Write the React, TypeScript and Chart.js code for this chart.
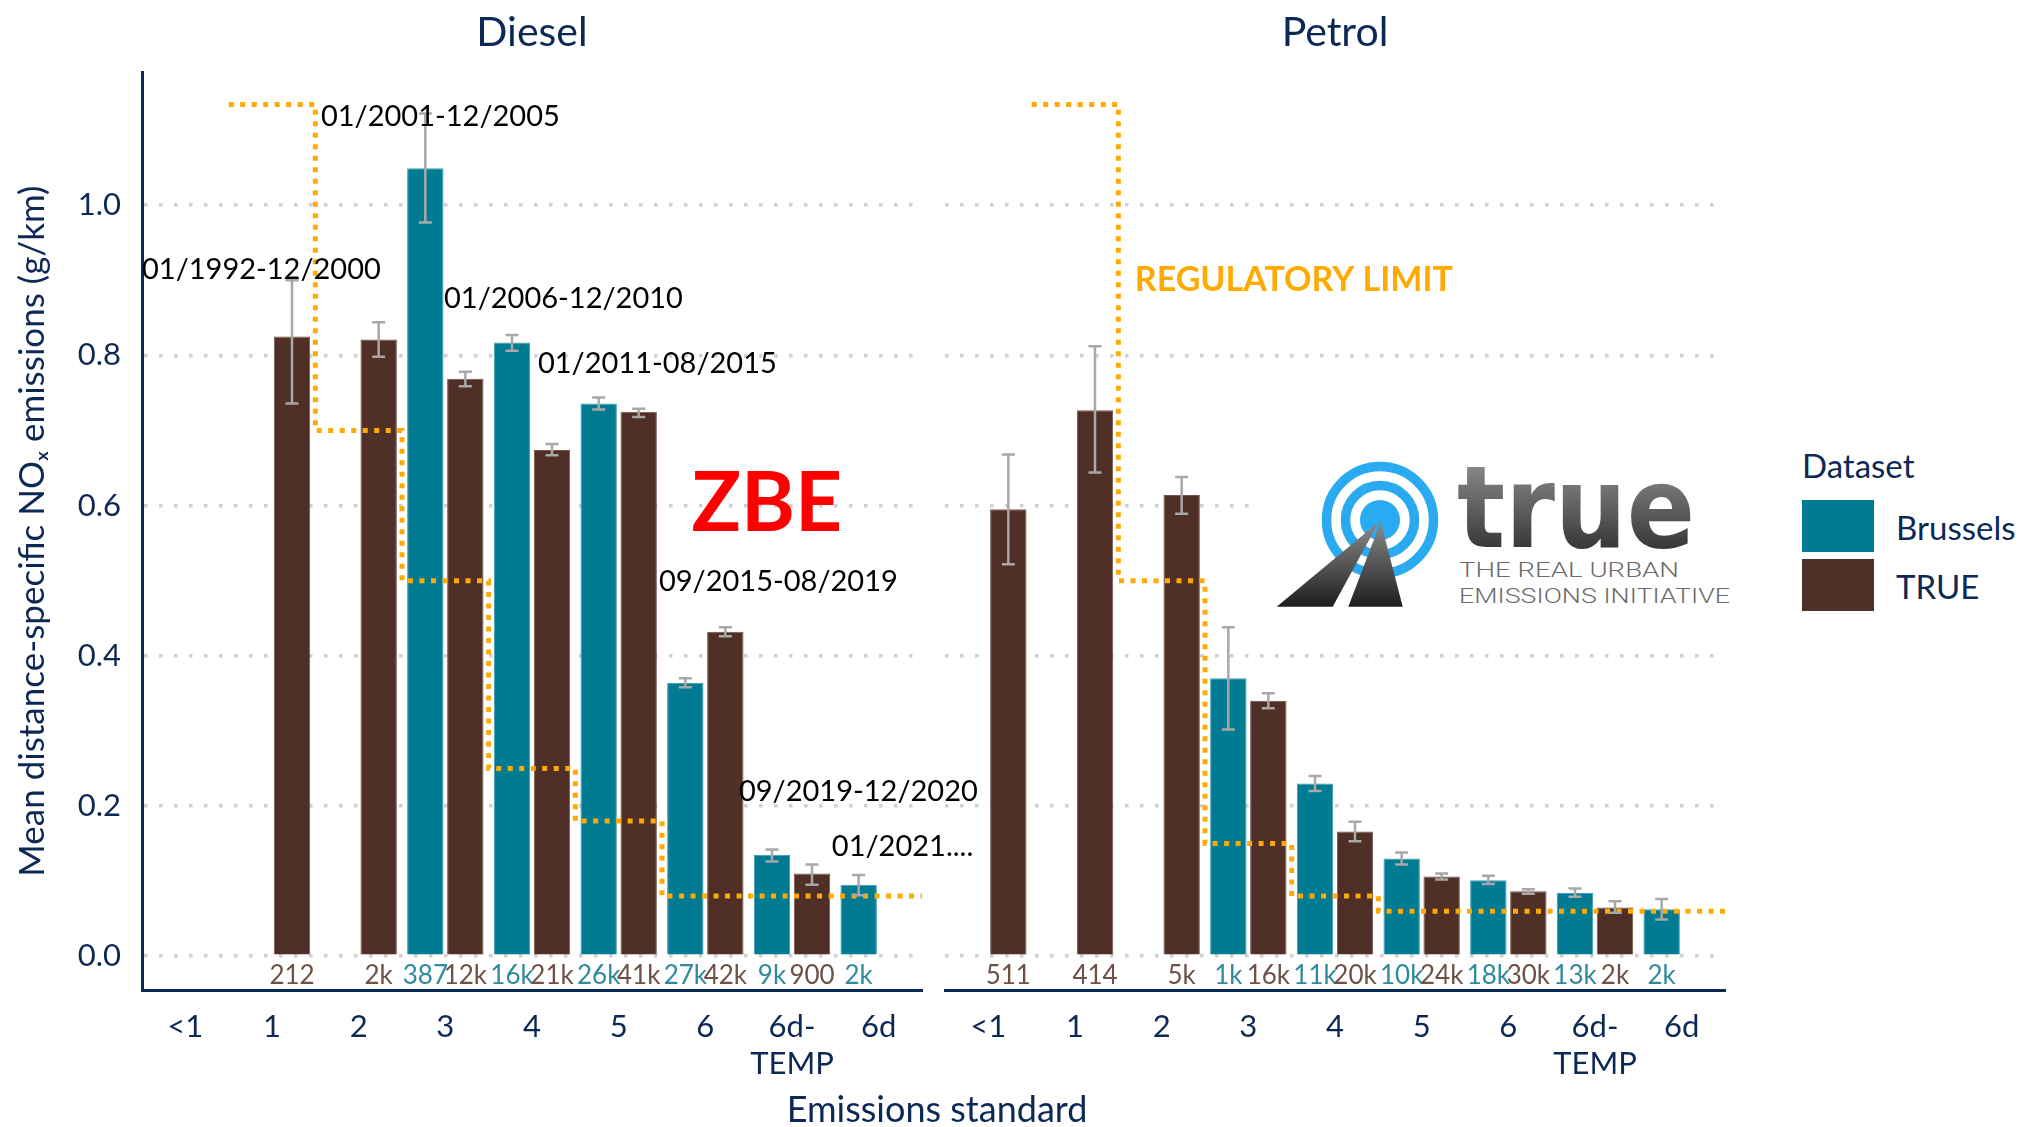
import React, { useEffect, useRef } from "react";
import { Chart, registerables } from "chart.js";
Chart.register(...registerables);

// ---------- data ----------
const categories: (string | string[])[] = ["<1", "1", "2", "3", "4", "5", "6", ["6d-", "TEMP"], "6d"];
const yTicks = [0, 0.2, 0.4, 0.6, 0.8, 1.0];
const seriesNames = ["Brussels", "TRUE"];
const seriesColors = ["#007B91", "#4F2F26"];
const seriesBorders = ["#3C9BAD", "#6E5449"];
const countColors = ["#2E8A9C", "#6E5046"];

const dieselBrussels = [null, null, null, 1.049, 0.817, 0.736, 0.364, 0.135, 0.095];
const dieselBrusselsLow = [null, null, null, 0.977, 0.806, 0.728, 0.358, 0.126, 0.081];
const dieselBrusselsHigh = [null, null, null, 1.122, 0.827, 0.744, 0.370, 0.142, 0.108];
const dieselTrue = [null, 0.825, 0.821, 0.769, 0.674, 0.725, 0.432, 0.110, null];
const dieselTrueLow = [null, 0.736, 0.798, 0.759, 0.667, 0.718, 0.426, 0.095, null];
const dieselTrueHigh = [null, 0.900, 0.844, 0.778, 0.682, 0.729, 0.438, 0.122, null];
const dieselBrusselsN = ["", "", "", "387", "16k", "26k", "27k", "9k", "2k"];
const dieselTrueN = ["", "212", "2k", "12k", "21k", "41k", "42k", "900", ""];
const dieselLimit = [null, 1.134, 0.70, 0.50, 0.25, 0.18, 0.08, 0.08, 0.08];

const petrolBrussels = [null, null, null, 0.370, 0.230, 0.130, 0.101, 0.0845, 0.0625];
const petrolBrusselsLow = [null, null, null, 0.302, 0.220, 0.122, 0.096, 0.079, 0.049];
const petrolBrusselsHigh = [null, null, null, 0.438, 0.240, 0.138, 0.107, 0.090, 0.076];
const petrolTrue = [0.595, 0.727, 0.614, 0.340, 0.166, 0.106, 0.0865, 0.065, null];
const petrolTrueLow = [0.522, 0.644, 0.589, 0.330, 0.153, 0.102, 0.083, 0.058, null];
const petrolTrueHigh = [0.668, 0.812, 0.638, 0.350, 0.179, 0.110, 0.089, 0.073, null];
const petrolBrusselsN = ["", "", "", "1k", "11k", "10k", "18k", "13k", "2k"];
const petrolTrueN = ["511", "414", "5k", "16k", "20k", "24k", "30k", "2k", ""];
const petrolLimit = [null, 1.134, 0.50, 0.15, 0.08, 0.06, 0.06, 0.06, 0.06];

// annotation texts, anchored in data units (category index, g/km)
const dieselNotes = ["01/1992-12/2000", "01/2001-12/2005", "01/2006-12/2010", "01/2011-08/2015", "09/2015-08/2019", "09/2019-12/2020", "01/2021...."];
const dieselNoteX = [-0.5, 1.565, 2.985, 4.069, 5.465, 6.388, 7.46];
const dieselNoteY = [0.914, 1.118, 0.876, 0.789, 0.499, 0.219, 0.146];
const zbeText = "ZBE";
const zbeX = 6.71;
const zbeY = 0.601;
const petrolNote = "REGULATORY LIMIT";
const petrolNoteX = 1.69;
const petrolNoteY = 0.90;

const panelTitles = ["Diesel", "Petrol"];
const yTitle = "Mean distance-specific NOₓ emissions (g/km)";
const xTitle = "Emissions standard";
const legendTitle = "Dataset";

// ---------- styles ----------
const FONT = "Lato";
const navy = "#0C2855";
const limitColor = "#FFAA00";

// step line vertices in category-index units (each limit spans its category)
function stepPoints(limit: (number | null)[]) {
  const pts: { x: number; y: number }[] = [];
  limit.forEach((v, i) => {
    if (v == null) return;
    pts.push({ x: i - 0.5, y: v }, { x: i + 0.5, y: v });
  });
  return pts;
}

function makeExtras(notes: any[]) {
  return {
    id: "extras",
    afterDatasetsDraw(chart: any) {
      const ctx = chart.ctx;
      const yScale = chart.scales.y;
      const xScale = chart.scales.x;
      const zeroPx = yScale.getPixelForValue(0);
      ctx.save();
      chart.data.datasets.forEach((ds: any, di: number) => {
        if (!ds.errLow) return;
        const meta = chart.getDatasetMeta(di);
        meta.data.forEach((el: any, i: number) => {
          const lo = ds.errLow[i];
          const hi = ds.errHigh[i];
          if (lo != null && hi != null) {
            const x = el.x;
            const y1 = yScale.getPixelForValue(lo);
            const y2 = yScale.getPixelForValue(hi);
            ctx.strokeStyle = "#A8A8A8";
            ctx.lineWidth = 2.5;
            ctx.setLineDash([]);
            ctx.beginPath();
            ctx.moveTo(x, y1);
            ctx.lineTo(x, y2);
            ctx.moveTo(x - 6.5, y1);
            ctx.lineTo(x + 6.5, y1);
            ctx.moveTo(x - 6.5, y2);
            ctx.lineTo(x + 6.5, y2);
            ctx.stroke();
          }
          const t = ds.counts ? ds.counts[i] : "";
          if (t) {
            ctx.fillStyle = ds.countColor;
            ctx.font = `normal 26px ${FONT}`;
            ctx.textAlign = "center";
            ctx.textBaseline = "middle";
            ctx.fillText(t, el.x, zeroPx + 19);
          }
        });
      });
      notes.forEach((n) => {
        ctx.font = n.font;
        ctx.fillStyle = n.color;
        ctx.textAlign = n.align;
        ctx.textBaseline = "middle";
        ctx.fillText(n.text, xScale.getPixelForValue(n.x), yScale.getPixelForValue(n.y));
      });
      ctx.restore();
    },
  };
}

type Panel = {
  title: string;
  b: (number | null)[]; bLo: (number | null)[]; bHi: (number | null)[]; bN: string[];
  t: (number | null)[]; tLo: (number | null)[]; tHi: (number | null)[]; tN: string[];
  limit: (number | null)[];
  notes: any[];
  showY: boolean;
  padLeft: number;
  padRight: number;
};

function buildConfig(p: Panel): any {
  const barCommon = { categoryPercentage: 0.923, barPercentage: 0.91, order: 2, borderWidth: 1 };
  return {
    type: "bar",
    data: {
      labels: categories,
      datasets: [
        { ...barCommon, label: seriesNames[0], data: p.b, backgroundColor: seriesColors[0], borderColor: seriesBorders[0], errLow: p.bLo, errHigh: p.bHi, counts: p.bN, countColor: countColors[0] },
        { ...barCommon, label: seriesNames[1], data: p.t, backgroundColor: seriesColors[1], borderColor: seriesBorders[1], errLow: p.tLo, errHigh: p.tHi, counts: p.tN, countColor: countColors[1] },
        {
          type: "line", label: "Regulatory limit", data: stepPoints(p.limit), parsing: false,
          borderColor: limitColor, borderWidth: 5, borderDash: [5, 6.5], borderCapStyle: "butt",
          pointRadius: 0, fill: false, tension: 0, order: 1,
        },
      ],
    },
    options: {
      responsive: false,
      animation: false,
      layout: { padding: { left: p.padLeft, right: p.padRight, top: 0, bottom: 0 } },
      plugins: {
        legend: { display: false },
        tooltip: { enabled: false },
        title: {
          display: true, text: p.title, color: navy, fullSize: false,
          font: { family: FONT, size: 41, weight: "normal" },
          padding: { top: 8, bottom: 15 },
        },
      },
      scales: {
        x: {
          type: "category",
          offset: true,
          grid: { display: false, drawTicks: false },
          border: { display: true, color: navy, width: 3 },
          ticks: { color: navy, font: { family: FONT, size: 31 }, padding: 18, maxRotation: 0, autoSkip: false },
          afterFit: (s: any) => { s.height = 137; },
        },
        y: {
          type: "linear",
          min: -0.045,
          max: 1.177,
          afterBuildTicks: (s: any) => { s.ticks = yTicks.map((v) => ({ value: v })); },
          afterFit: (s: any) => { s.width = p.showY ? 142 : 0; },
          ticks: {
            display: p.showY, color: navy, font: { family: FONT, size: 31 }, padding: 21,
            callback: (v: any) => Number(v).toFixed(1),
          },
          grid: { color: "#D0D0D0", lineWidth: 3.5, drawTicks: false },
          border: { display: p.showY, color: navy, width: 3, dash: [3.5, 11.5] },
          title: {
            display: p.showY, text: yTitle, color: navy,
            font: { family: FONT, size: 35 }, padding: { top: 12, bottom: 0 },
          },
        },
      },
    },
    plugins: [makeExtras(p.notes)],
  };
}

export default function App() {
  const dRef = useRef<HTMLCanvasElement>(null);
  const pRef = useRef<HTMLCanvasElement>(null);

  useEffect(() => {
    document.body.style.margin = "0";
    const dateFont = `normal 29px ${FONT}`;
    const dNotes = dieselNotes.map((t, i) => ({ text: t, x: dieselNoteX[i], y: dieselNoteY[i], font: dateFont, color: "#000000", align: "left" }));
    dNotes.push({ text: zbeText, x: zbeX, y: zbeY, font: `bold 82px ${FONT}`, color: "#FF0000", align: "center" });
    const pNotes = [{ text: petrolNote, x: petrolNoteX, y: petrolNoteY, font: `bold 34px ${FONT}`, color: limitColor, align: "left" }];

    const c1 = new Chart(dRef.current as HTMLCanvasElement, buildConfig({
      title: panelTitles[0],
      b: dieselBrussels, bLo: dieselBrusselsLow, bHi: dieselBrusselsHigh, bN: dieselBrusselsN,
      t: dieselTrue, tLo: dieselTrueLow, tHi: dieselTrueHigh, tN: dieselTrueN,
      limit: dieselLimit, notes: dNotes, showY: true, padLeft: 0, padRight: 78,
    }));
    const c2 = new Chart(pRef.current as HTMLCanvasElement, buildConfig({
      title: panelTitles[1],
      b: petrolBrussels, bLo: petrolBrusselsLow, bHi: petrolBrusselsHigh, bN: petrolBrusselsN,
      t: petrolTrue, tLo: petrolTrueLow, tHi: petrolTrueHigh, tN: petrolTrueN,
      limit: petrolLimit, notes: pNotes, showY: false, padLeft: 15, padRight: 35,
    }));
    return () => {
      c1.destroy();
      c2.destroy();
    };
  }, []);

  const txt = (extra: any): any => ({ position: "absolute", fontFamily: FONT, color: navy, whiteSpace: "nowrap", lineHeight: 1, ...extra });

  return (
    <div style={{ position: "absolute", left: 0, top: 0, width: 2021, height: 1127, overflow: "hidden", background: "#ffffff" }}>
      <canvas ref={dRef} width={1000} height={1127} style={{ position: "absolute", left: 0, top: 0 }} />
      <canvas ref={pRef} width={830} height={1127} style={{ position: "absolute", left: 930, top: 0 }} />

      <div style={txt({ left: 937, top: 1108, fontSize: 36, transform: "translate(-50%, -50%)" })}>{xTitle}</div>

      {/* legend */}
      <div style={txt({ left: 1802, top: 465, fontSize: 33, transform: "translateY(-50%)" })}>{legendTitle}</div>
      {seriesNames.map((n, i) => (
        <React.Fragment key={n}>
          <div style={{ position: "absolute", left: 1802, top: 500 + i * 59, width: 72, height: 52, background: seriesColors[i] }} />
          <div style={txt({ left: 1896, top: 527 + i * 59, fontSize: 33, transform: "translateY(-50%)" })}>{n}</div>
        </React.Fragment>
      ))}

      {/* TRUE logo */}
      <svg width={490} height={180} style={{ position: "absolute", left: 1255, top: 445, background: "#ffffff" }}>
        <defs>
          <linearGradient id="roadG" x1="0" y1="0" x2="0" y2="1">
            <stop offset="0" stopColor="#8c8c8c" />
            <stop offset="1" stopColor="#1e1e1e" />
          </linearGradient>
          <linearGradient id="txtG" x1="0" y1="0" x2="0" y2="1">
            <stop offset="0" stopColor="#a0a0a0" />
            <stop offset="1" stopColor="#1f1f1f" />
          </linearGradient>
        </defs>
        <circle cx={125} cy={75} r={53.5} fill="none" stroke="#2AAAF0" strokeWidth={9.5} />
        <circle cx={125} cy={75} r={34.5} fill="none" stroke="#2AAAF0" strokeWidth={9.5} />
        <circle cx={125} cy={75} r={20} fill="#2AAAF0" />
        <polygon points="21.7,161.7 124,76.7 77.7,161.7" fill="url(#roadG)" />
        <polygon points="93.3,161.7 125.7,76.7 147.7,161.7" fill="url(#roadG)" />
        <text x={202} y={102} fontFamily="DejaVu Sans" fontWeight="bold" fontSize={114} textLength={238} lengthAdjust="spacingAndGlyphs" fill="url(#txtG)">true</text>
        <text x={204} y={131.7} fontFamily="Roboto" fontWeight={300} fontSize={21} textLength={220} lengthAdjust="spacingAndGlyphs" fill="#6a6a6a">THE REAL URBAN</text>
        <text x={204} y={158.3} fontFamily="Roboto" fontWeight={300} fontSize={21} textLength={271} lengthAdjust="spacingAndGlyphs" fill="#6a6a6a">EMISSIONS INITIATIVE</text>
      </svg>
    </div>
  );
}
